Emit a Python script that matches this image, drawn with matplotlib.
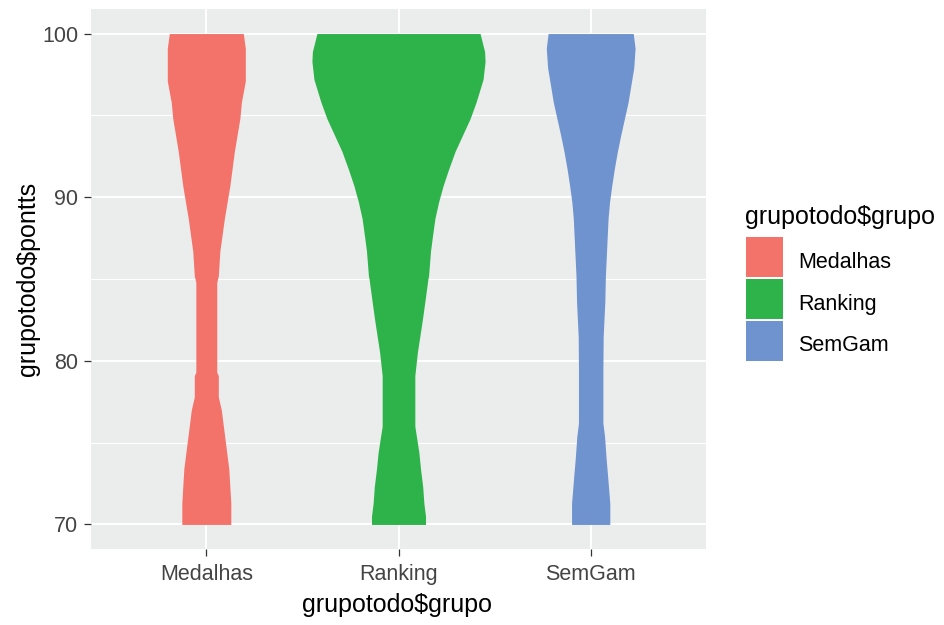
import numpy as np
import matplotlib.pyplot as plt
from matplotlib.patches import Rectangle

plt.rcParams['font.family'] = ['Liberation Sans', 'DejaVu Sans']

grupos = ['Medalhas', 'Ranking', 'SemGam']
cores = ['#F3736B', '#2EB24A', '#6E93CE']

# contorno de cada violino: pontos (y) e largura total no eixo x
med_y = [100, 99.1, 97.1, 95.8, 94.8, 92.8, 90.7, 88.7, 86.7, 85.2,
         84.8, 79.3, 79.1, 77.8, 77.0, 75.8, 74.6, 73.4, 71.3, 70]
med_w = [0.385, 0.406, 0.406, 0.365, 0.349, 0.292, 0.245, 0.188, 0.141, 0.125,
         0.109, 0.109, 0.125, 0.125, 0.156, 0.182, 0.208, 0.234, 0.255, 0.255]

rank_y = [100, 98.9, 98.3, 97.2, 95.8, 94.8, 93.8, 92.8, 91.7, 90.7,
          89.7, 88.7, 87.6, 86.7, 85.2, 85.0, 83.6, 82.5, 81.5, 80.5,
          79.1, 76.0, 75.4, 74.4, 73.4, 72.3, 71.3, 70.5, 70]
rank_w = [0.849, 0.896, 0.901, 0.880, 0.807, 0.745, 0.667, 0.589, 0.521, 0.464,
          0.417, 0.379, 0.353, 0.333, 0.313, 0.306, 0.274, 0.248, 0.222, 0.196,
          0.170, 0.170, 0.186, 0.212, 0.229, 0.252, 0.264, 0.281, 0.281]

sem_y = [100, 99.1, 97.9, 96.8, 95.8, 94.8, 93.8, 92.8, 91.7, 90.7,
         89.7, 88.7, 86.7, 85.2, 83.6, 81.5, 79.5, 76.2, 75.4, 74.0,
         72.9, 71.3, 70]
sem_w = [0.443, 0.462, 0.448, 0.417, 0.389, 0.351, 0.313, 0.278, 0.245, 0.219,
         0.196, 0.181, 0.165, 0.153, 0.147, 0.130, 0.127, 0.127, 0.144, 0.161,
         0.177, 0.199, 0.199]

violinos = [(med_y, med_w), (rank_y, rank_w), (sem_y, sem_w)]

W, H = 945, 625
fx = lambda px: px / W
fy = lambda py: 1 - py / H

fig = plt.figure(figsize=(W / 100, H / 100), dpi=100)
ax = fig.add_axes([fx(91), fy(549), fx(706) - fx(91), fy(9) - fy(549)])
ax.set_facecolor('#EBECEC')
for s in ax.spines.values():
    s.set_visible(False)

for i, (yy, ww) in enumerate(violinos):
    yy = np.array(yy)
    ww = np.array(ww)
    ax.fill_betweenx(yy, i + 1 - ww / 2, i + 1 + ww / 2, color=cores[i], lw=0, zorder=2)

ax.set_xlim(0.4, 3.6)
ax.set_ylim(68.5, 101.5)
ax.set_xticks([1, 2, 3], grupos)
ax.set_yticks([70, 80, 90, 100])
ax.set_yticks([75, 85, 95], minor=True)
ax.grid(which='major', color='white', lw=1.4, zorder=0)
ax.grid(which='minor', axis='y', color='white', lw=0.8, zorder=0)
ax.set_axisbelow(True)
ax.tick_params(which='major', length=5, width=0.9, color='#333333',
               labelcolor='#444444', labelsize=15.5, pad=4)
ax.tick_params(axis='x', which='major', pad=6)
ax.tick_params(which='minor', length=0)

fig.text(fx(397), fy(605), 'grupotodo$grupo', fontsize=18, ha='center', va='center')
fig.text(fx(28), fy(279), 'grupotodo$pontts', fontsize=18, ha='center', va='center',
         rotation=90)

# legenda
fig.text(fx(745), fy(224), 'grupotodo$grupo', fontsize=18, ha='left', va='baseline')
for i, g in enumerate(grupos):
    topo = 237.5 + i * 41.7
    fig.add_artist(Rectangle((fx(746), fy(topo + 40)), fx(783) - fx(746), 40 / H,
                             transform=fig.transFigure, facecolor=cores[i],
                             edgecolor='none'))
    fig.text(fx(798), fy(topo + 30.5), g, fontsize=15.5, ha='left', va='baseline')

fig.savefig('out.png', dpi=100)
